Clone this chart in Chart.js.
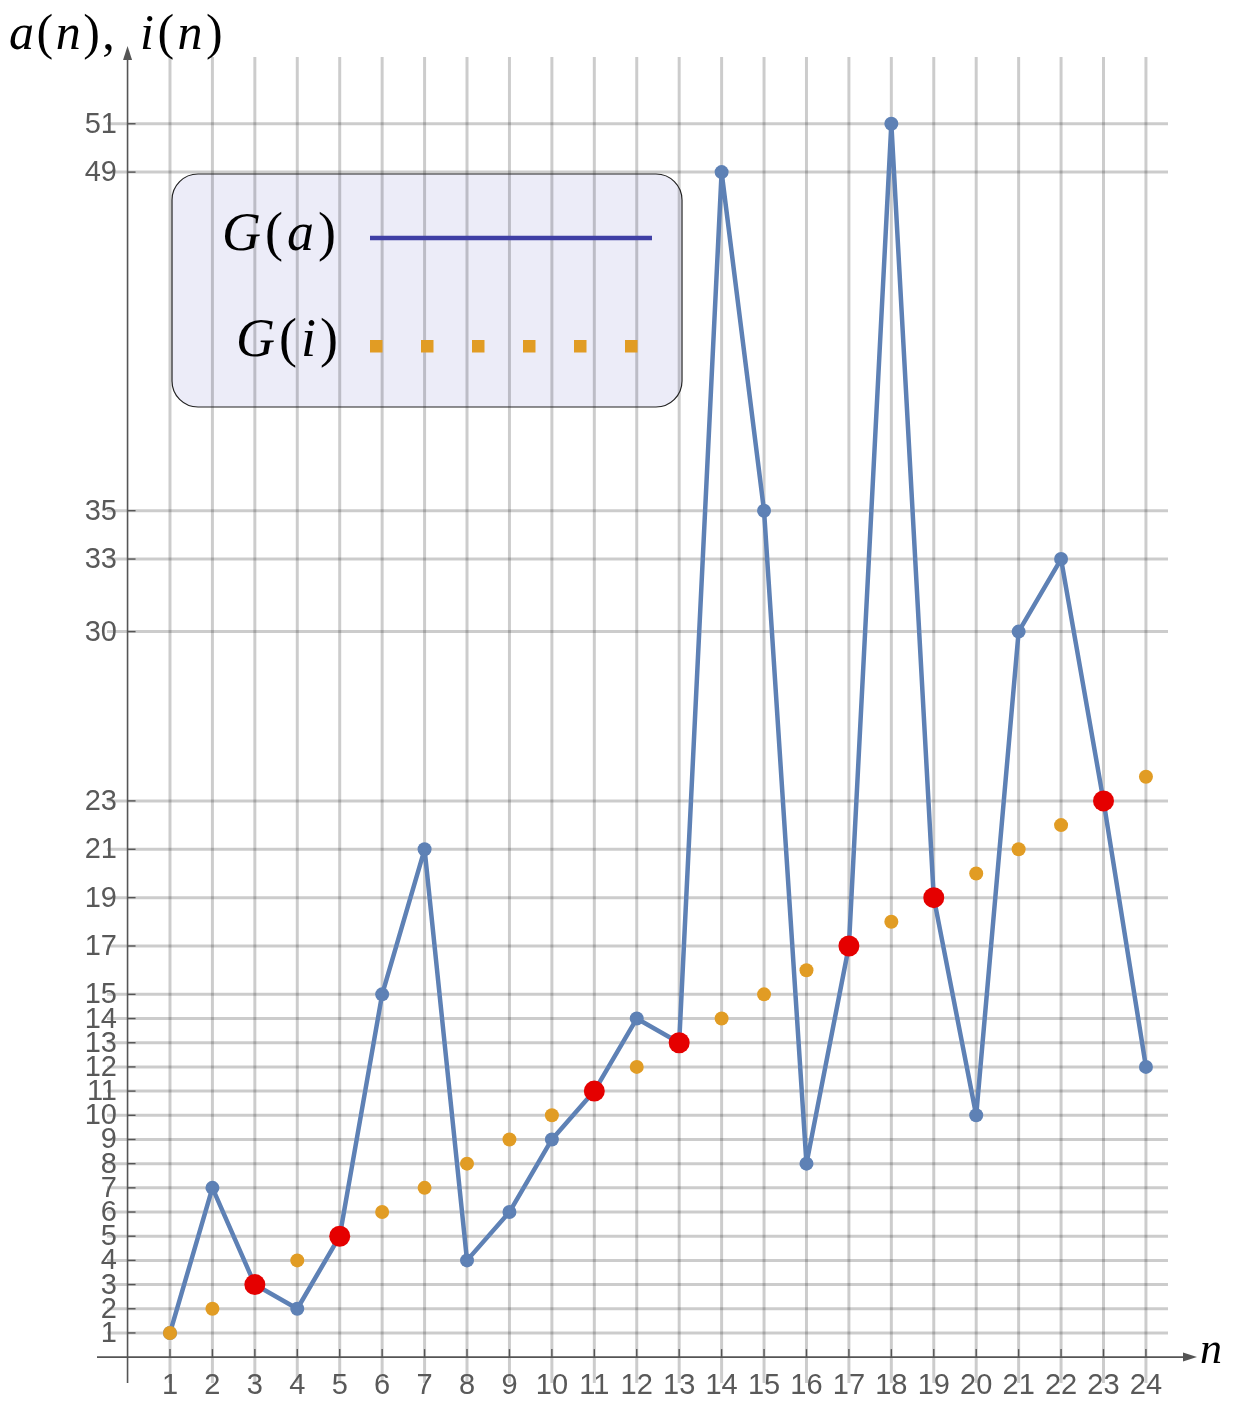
<!DOCTYPE html>
<html>
<head>
<meta charset="utf-8">
<script src="https://cdn.jsdelivr.net/npm/chart.js@4.4.0/dist/chart.umd.min.js"></script>
<style>
  html, body { margin: 0; padding: 0; background: #fff; }
  canvas { display: block; }
</style>
</head>
<body>
<canvas id="grafica" width="1239" height="1404"></canvas>
<script>
const nValues = [1, 2, 3, 4, 5, 6, 7, 8, 9, 10, 11, 12, 13, 14, 15, 16, 17, 18, 19, 20, 21, 22, 23, 24];
const aValues = [1, 7, 3, 2, 5, 15, 21, 4, 6, 9, 11, 14, 13, 49, 35, 8, 17, 51, 19, 10, 30, 33, 23, 12];
const iValues = [1, 2, 3, 4, 5, 6, 7, 8, 9, 10, 11, 12, 13, 14, 15, 16, 17, 18, 19, 20, 21, 22, 23, 24];
const fixedN = [3, 5, 11, 13, 17, 19, 23];
const xTicks = [1, 2, 3, 4, 5, 6, 7, 8, 9, 10, 11, 12, 13, 14, 15, 16, 17, 18, 19, 20, 21, 22, 23, 24];
const yTicks = [1, 2, 3, 4, 5, 6, 7, 8, 9, 10, 11, 12, 13, 14, 15, 17, 19, 21, 23, 30, 33, 35, 49, 51];

const AZUL = '#5e81b5';
const NARANJA = '#e19c24';
const ROJO = '#e50000';
const EJE = '#555555';

// texto tipo "math": letras en cursiva, parentesis rectos
function textoMat(ctx, piezas, x, yb, size, align, esp) {
    const fuente = c => (c ? 'italic ' : '') + size + 'px "Liberation Serif", "DejaVu Serif", serif';
    let ancho = 0;
    piezas.forEach(p => {
        ctx.font = fuente(p[1]);
        ancho += ctx.measureText(p[0]).width + esp;
    });
    ancho -= esp;
    let cx = align === 'right' ? x - ancho : x;
    ctx.textAlign = 'left';
    ctx.textBaseline = 'alphabetic';
    ctx.fillStyle = '#000';
    piezas.forEach(p => {
        ctx.font = fuente(p[1]);
        ctx.fillText(p[0], cx, yb);
        cx += ctx.measureText(p[0]).width + esp;
    });
}

function cajaRedonda(ctx, x, y, w, h, r) {
    ctx.beginPath();
    ctx.moveTo(x + r, y);
    ctx.lineTo(x + w - r, y);
    ctx.arcTo(x + w, y, x + w, y + r, r);
    ctx.lineTo(x + w, y + h - r);
    ctx.arcTo(x + w, y + h, x + w - r, y + h, r);
    ctx.lineTo(x + r, y + h);
    ctx.arcTo(x, y + h, x, y + h - r, r);
    ctx.lineTo(x, y + r);
    ctx.arcTo(x, y, x + r, y, r);
    ctx.closePath();
}

const fondo = {
    id: 'fondo',
    beforeDatasetsDraw(chart) {
        const ctx = chart.ctx;
        const sx = chart.scales.x, sy = chart.scales.y;
        const area = chart.chartArea;
        const x0 = sx.getPixelForValue(0);
        const y0 = sy.getPixelForValue(0);
        ctx.save();

        // relleno de la leyenda
        cajaRedonda(ctx, 172, 174, 510, 233, 26);
        ctx.fillStyle = '#ececf8';
        ctx.fill();

        // rejilla
        ctx.strokeStyle = 'rgba(0,0,0,0.2)';
        ctx.lineWidth = 3;
        xTicks.forEach(v => {
            const px = sx.getPixelForValue(v);
            ctx.beginPath();
            ctx.moveTo(px, area.top);
            ctx.lineTo(px, area.bottom);
            ctx.stroke();
        });
        yTicks.forEach(v => {
            const py = sy.getPixelForValue(v);
            ctx.beginPath();
            ctx.moveTo(107, py);
            ctx.lineTo(area.right, py);
            ctx.stroke();
        });

        // ejes
        ctx.strokeStyle = EJE;
        ctx.fillStyle = EJE;
        ctx.lineWidth = 1.6;
        ctx.beginPath();
        ctx.moveTo(x0, area.bottom);
        ctx.lineTo(x0, 56);
        ctx.moveTo(area.left, y0);
        ctx.lineTo(1186, y0);
        ctx.stroke();
        ctx.beginPath();
        ctx.moveTo(x0, 46);
        ctx.lineTo(x0 - 4.5, 60);
        ctx.lineTo(x0 + 4.5, 60);
        ctx.closePath();
        ctx.fill();
        ctx.beginPath();
        ctx.moveTo(1197, y0);
        ctx.lineTo(1183, y0 - 4.5);
        ctx.lineTo(1183, y0 + 4.5);
        ctx.closePath();
        ctx.fill();

        // marcas
        ctx.lineWidth = 1.4;
        yTicks.forEach(v => {
            const py = sy.getPixelForValue(v);
            ctx.beginPath();
            ctx.moveTo(x0, py);
            ctx.lineTo(x0 + 8, py);
            ctx.stroke();
        });
        xTicks.forEach(v => {
            const px = sx.getPixelForValue(v);
            ctx.beginPath();
            ctx.moveTo(px, y0);
            ctx.lineTo(px, y0 - 8);
            ctx.stroke();
        });

        // etiquetas
        ctx.font = '29px "Liberation Sans", Arial, sans-serif';
        ctx.fillStyle = '#595959';
        ctx.textAlign = 'right';
        ctx.textBaseline = 'middle';
        yTicks.forEach(v => ctx.fillText(String(v), 117, sy.getPixelForValue(v) + 1));
        ctx.textAlign = 'center';
        xTicks.forEach(v => ctx.fillText(String(v), sx.getPixelForValue(v), 1386));

        // titulos de ejes
        textoMat(ctx, [['a', true], ['(', false], ['n', true], [')', false], [',', false]], 9, 49, 50, 'left', 2.5);
        textoMat(ctx, [['i', true], ['(', false], ['n', true], [')', false]], 140, 49, 50, 'left', 3.5);
        textoMat(ctx, [['n', true]], 1200, 1363, 44, 'left', 0);
        ctx.restore();
    },
    afterDatasetsDraw(chart) {
        const ctx = chart.ctx;
        ctx.save();
        cajaRedonda(ctx, 172, 174, 510, 233, 26);
        ctx.strokeStyle = '#222';
        ctx.lineWidth = 1.2;
        ctx.stroke();

        textoMat(ctx, [['G', true], ['(', false], ['a', true], [')', false]], 336, 250, 54, 'right', 4);
        textoMat(ctx, [['G', true], ['(', false], ['i', true], [')', false]], 338, 356, 54, 'right', 4);

        ctx.strokeStyle = '#3f3fa5';
        ctx.lineWidth = 4.5;
        ctx.beginPath();
        ctx.moveTo(370, 238);
        ctx.lineTo(652, 238);
        ctx.stroke();

        ctx.fillStyle = NARANJA;
        for (let k = 0; k < 6; k++) {
            ctx.fillRect(370 + k * 51, 340, 12.5, 12.5);
        }
        ctx.restore();
    }
};

const puntosA = nValues.map((n, k) => ({ x: n, y: aValues[k] }));
const puntosI = nValues.map((n, k) => ({ x: n, y: iValues[k] }));
const puntosFijos = fixedN.map(n => ({ x: n, y: aValues[n - 1] }));

new Chart(document.getElementById('grafica'), {
    type: 'scatter',
    data: {
        datasets: [{
            label: 'fijos',
            data: puntosFijos,
            pointRadius: 10.5,
            pointBackgroundColor: ROJO,
            pointBorderWidth: 0,
            showLine: false,
            order: 1,
            clip: false
        }, {
            label: 'G(i)',
            data: puntosI,
            pointRadius: 7,
            pointBackgroundColor: NARANJA,
            pointBorderWidth: 0,
            showLine: false,
            order: 2,
            clip: false
        }, {
            label: 'G(a)',
            data: puntosA,
            borderColor: AZUL,
            borderWidth: 4.5,
            borderJoinStyle: 'round',
            borderCapStyle: 'round',
            pointRadius: 7,
            pointBackgroundColor: AZUL,
            pointBorderWidth: 0,
            showLine: true,
            tension: 0,
            order: 3,
            clip: false
        }]
    },
    options: {
        responsive: false,
        animation: false,
        events: [],
        layout: { padding: { left: 97, right: 71, top: 57, bottom: 21 } },
        plugins: {
            legend: { display: false },
            tooltip: { enabled: false }
        },
        scales: {
            x: { type: 'linear', min: -0.72, max: 24.52, display: false },
            y: { type: 'linear', min: -1.07, max: 53.76, display: false }
        }
    },
    plugins: [fondo]
});
</script>
</body>
</html>
